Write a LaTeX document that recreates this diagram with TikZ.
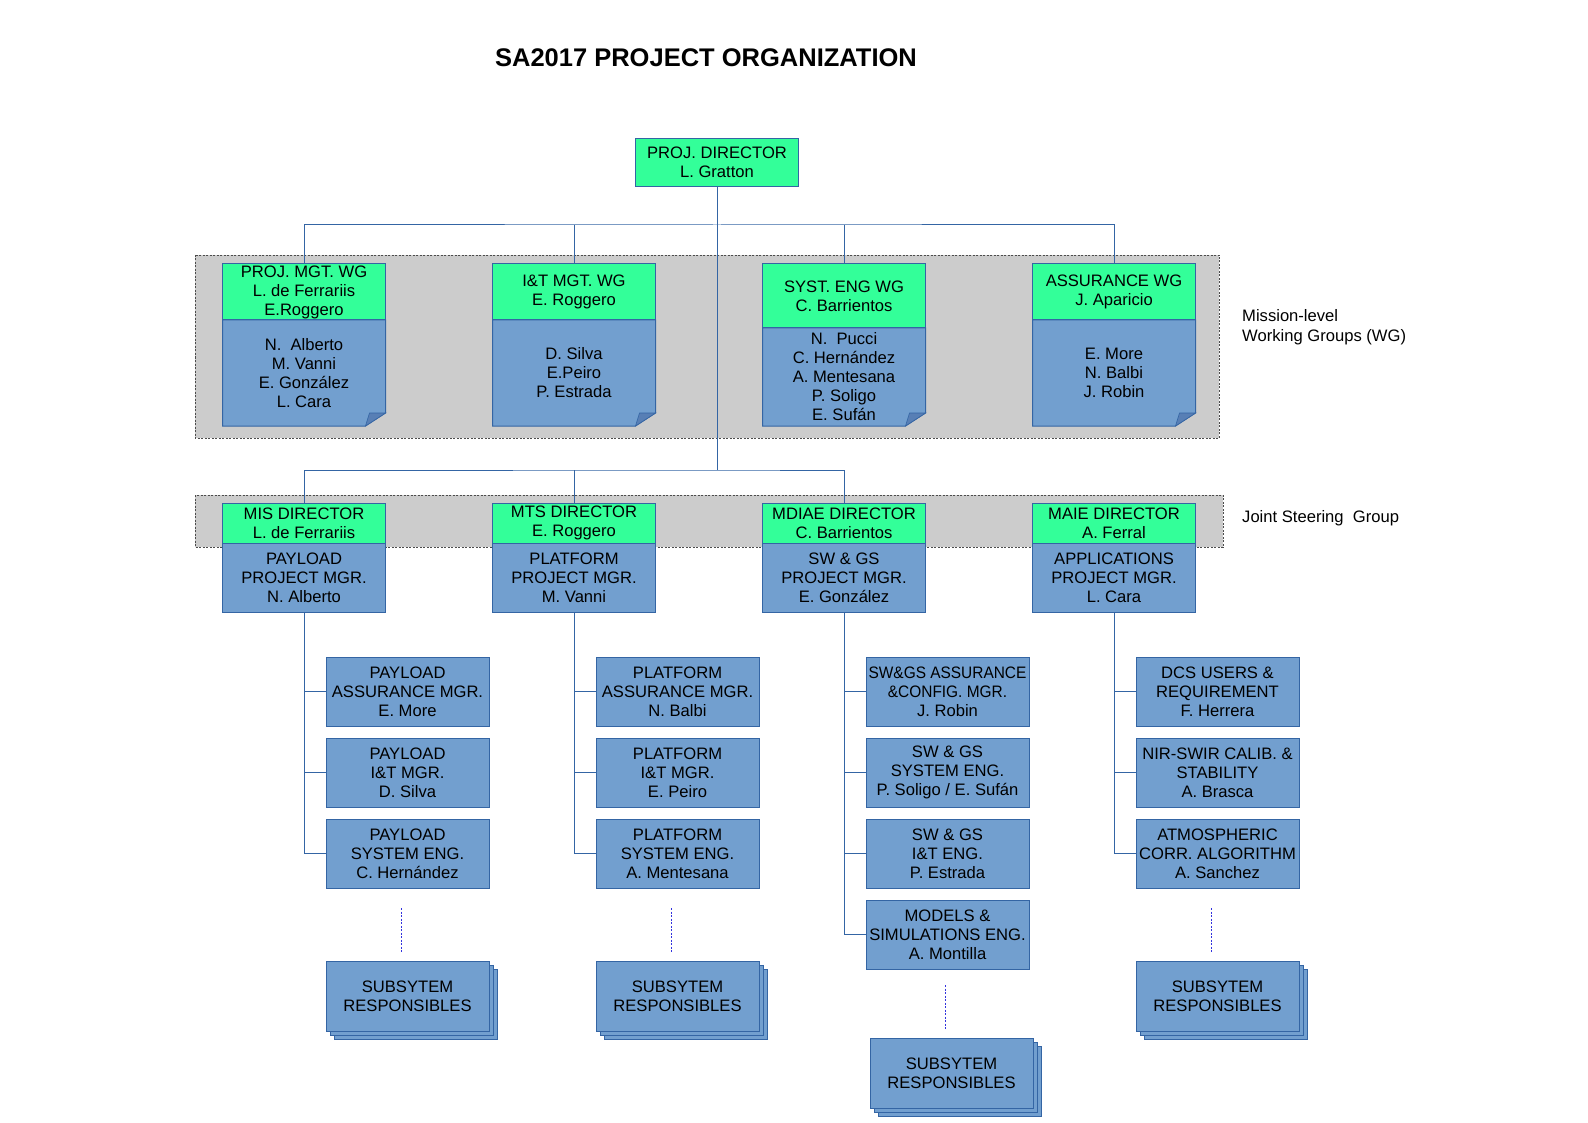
\documentclass[tikz,border=0pt]{standalone}
\usepackage{fontspec}
\setmainfont{Liberation Sans}
\usepackage{graphicx}
\usetikzlibrary{positioning,calc,shadows,backgrounds}
\pgfdeclarelayer{bands}
\pgfsetlayers{bands,background,main}
\definecolor{headgreen}{HTML}{33FF99}
\definecolor{staffblue}{HTML}{729FCF}
\definecolor{boxline}{HTML}{3465A4}
\definecolor{foldblue}{HTML}{587FB5}
\definecolor{bandgray}{HTML}{CCCCCC}
\definecolor{dotblue}{HTML}{3333DD}
\newcommand{\orgfont}{\fontsize{16.6}{19}\selectfont}
\newcommand{\narrow}[1]{\scalebox{0.93}[1]{#1}}

\begin{document}
\begin{tikzpicture}[x=1pt,y=-1pt,
  box/.style={draw=boxline,line width=1pt,minimum width=163pt,inner sep=0pt,outer sep=0pt,align=center,font=\orgfont},
  head node/.style={box,fill=headgreen},
  staff node/.style={box,fill=staffblue,minimum height=69pt},
  wg body/.style={box,draw=none},
  stack node/.style={staff node,minimum height=70pt,copy shadow={shadow xshift=8pt,shadow yshift=-8pt},copy shadow={shadow xshift=4pt,shadow yshift=-4pt}},
  link/.style={draw=boxline,line width=1pt},
  dots/.style={draw=dotblue,line width=1pt,dash pattern=on 2pt off 1.5pt},
  band/.style={fill=bandgray,draw=black!70,line width=0.8pt,dash pattern=on 2pt off 1.5pt},
  side label/.style={anchor=base west,align=left,inner sep=0pt,font=\fontsize{16.6}{20}\selectfont}]

	\useasboundingbox (0,0) rectangle (1588,1123);

	% title and side labels
	\node[font=\fontsize{25.5}{30}\selectfont\bfseries,anchor=base] (title) at (706,66.5) {SA2017 PROJECT ORGANIZATION};
	\node[side label] (wglabel) at (1242,341.7) {Mission-level\\Working Groups (WG)};
	\node[side label] (jsglabel) at (1242,522.3) {Joint Steering~ Group};

	% grey group bands
	\begin{pgfonlayer}{bands}
	\path[band] (195,255) rectangle (1219,438);
	\path[band] (195,495) rectangle (1223,547);
	\end{pgfonlayer}

	% director
	\node[head node,minimum height=48pt] (dir) at (717,162.5) {PROJ. DIRECTOR\\L. Gratton};

	% working groups
	\node[head node,minimum height=56pt,anchor=north] (wgpm) at (304,264) {PROJ. MGT. WG\\L. de Ferrariis\\E.Roggero};
	\node[head node,minimum height=56pt,anchor=north] (wgit) at (574,264) {I\&T MGT. WG\\E. Roggero};
	\node[head node,minimum height=64pt,anchor=north] (wgse) at (844,264) {SYST. ENG WG\\C. Barrientos};
	\node[head node,minimum height=56pt,anchor=north] (wgas) at (1114,264) {ASSURANCE WG\\J. Aparicio};
	\node[wg body,minimum height=106pt,below=0pt of wgpm] (wgpmb) {N.~ Alberto\\M. Vanni\\E. González\\L. Cara};
	\node[wg body,minimum height=106pt,below=0pt of wgit] (wgitb) {D. Silva\\E.Peiro\\P. Estrada};
	\node[wg body,minimum height=98pt,below=0pt of wgse] (wgseb) {N.~ Pucci\\C. Hernández\\A. Mentesana\\P. Soligo\\E. Sufán};
	\node[wg body,minimum height=106pt,below=0pt of wgas] (wgasb) {E. More\\N. Balbi\\J. Robin};

	\begin{scope}[on background layer]
	\foreach \n in {wgpmb,wgitb,wgseb,wgasb}{
		\filldraw[fill=staffblue,draw=boxline,line width=1pt] (\n.north west) -- (\n.north east) -- ($(\n.south east)+(0,-13)$) -- ($(\n.south east)+(-20,0)$) -- (\n.south west) -- cycle;
		\filldraw[fill=foldblue,draw=boxline,line width=0.6pt] ($(\n.south east)+(-20,0)$) -- ($(\n.south east)+(-16,-13)$) -- ($(\n.south east)+(0,-13)$) -- cycle;
	}
	\end{scope}

	% directors and project managers
	\node[head node,minimum height=40pt,anchor=north] (mis) at (304,503) {MIS DIRECTOR\\L. de Ferrariis};
	\node[head node,minimum height=40pt,anchor=north] (mts) at (574,503) {MTS DIRECTOR\\E. Roggero};
	\node[head node,minimum height=40pt,anchor=north] (mdiae) at (844,503) {MDIAE DIRECTOR\\C. Barrientos};
	\node[head node,minimum height=40pt,anchor=north] (maie) at (1114,503) {MAIE DIRECTOR\\A. Ferral};
	\node[staff node,below=0pt of mis] (pay) {PAYLOAD\\PROJECT MGR.\\N. Alberto};
	\node[staff node,below=0pt of mts] (plat) {PLATFORM\\PROJECT MGR.\\M. Vanni};
	\node[staff node,below=0pt of mdiae] (sw) {SW \& GS\\PROJECT MGR.\\E. González};
	\node[staff node,below=0pt of maie] (appl) {APPLICATIONS\\PROJECT MGR.\\L. Cara};

	% payload team
	\node[staff node,anchor=north west] (pay1) at (326,657) {PAYLOAD\\ASSURANCE MGR.\\E. More};
	\node[staff node,below=12pt of pay1] (pay2) {PAYLOAD\\I\&T MGR.\\D. Silva};
	\node[staff node,below=12pt of pay2] (pay3) {PAYLOAD\\SYSTEM ENG.\\C. Hernández};
	\node[stack node,below=73pt of pay3] (paystack) {SUBSYTEM\\RESPONSIBLES};

	% platform team
	\node[staff node,anchor=north west] (plat1) at (596,657) {PLATFORM\\ASSURANCE MGR.\\N. Balbi};
	\node[staff node,below=12pt of plat1] (plat2) {PLATFORM\\I\&T MGR.\\E. Peiro};
	\node[staff node,below=12pt of plat2] (plat3) {PLATFORM\\SYSTEM ENG.\\A. Mentesana};
	\node[stack node,below=73pt of plat3] (platstack) {SUBSYTEM\\RESPONSIBLES};

	% sw & gs team
	\node[staff node,anchor=north west] (sw1) at (866,657) {\narrow{SW\&GS ASSURANCE}\\\narrow{\&CONFIG. MGR.}\\J. Robin};
	\node[staff node,below=12pt of sw1] (sw2) {SW \& GS\\SYSTEM ENG.\\P. Soligo / E. Sufán};
	\node[staff node,below=12pt of sw2] (sw3) {SW \& GS\\I\&T ENG.\\P. Estrada};
	\node[staff node,below=12pt of sw3] (sw4) {MODELS \&\\SIMULATIONS ENG.\\A. Montilla};
	\node[stack node,below=69pt of sw4,xshift=4pt] (swstack) {SUBSYTEM\\RESPONSIBLES};

	% applications team
	\node[staff node,anchor=north west] (appl1) at (1136,657) {DCS USERS \&\\REQUIREMENT\\F. Herrera};
	\node[staff node,below=12pt of appl1] (appl2) {NIR-SWIR CALIB. \&\\STABILITY\\A. Brasca};
	\node[staff node,below=12pt of appl2] (appl3) {ATMOSPHERIC\\CORR. ALGORITHM\\A. Sanchez};
	\node[stack node,below=73pt of appl3] (applstack) {SUBSYTEM\\RESPONSIBLES};

	% connectors
	\coordinate (topbus) at (717,225);
	\coordinate (midbus) at (717,470);
	\draw[link] (dir.south) -- (midbus);
	\draw[link] (wgpm.north) |- (topbus) -| (wgas.north);
	\draw[link] (wgit.north) -- (wgit.north |- topbus);
	\draw[link] (wgse.north) -- (wgse.north |- topbus);
	\draw[link] (mis.north) |- (midbus) -| (mdiae.north);
	\draw[link] (mts.north) -- (mts.north |- midbus);

	\foreach \col/\last in {pay/3,plat/3,sw/4,appl/3}
		\draw[link] (\col.south) |- (\col\last.west);
	\foreach \sub/\col in {pay1/pay,pay2/pay,plat1/plat,plat2/plat,sw1/sw,sw2/sw,sw3/sw,appl1/appl,appl2/appl}
		\draw[link] (\sub.west) -- (\sub.west -| \col.south);

	\foreach \s in {paystack,platstack,swstack,applstack}
		\draw[dots] ($(\s.north)+(-6,-53)$) -- ($(\s.north)+(-6,-8)$);
\end{tikzpicture}
\end{document}
